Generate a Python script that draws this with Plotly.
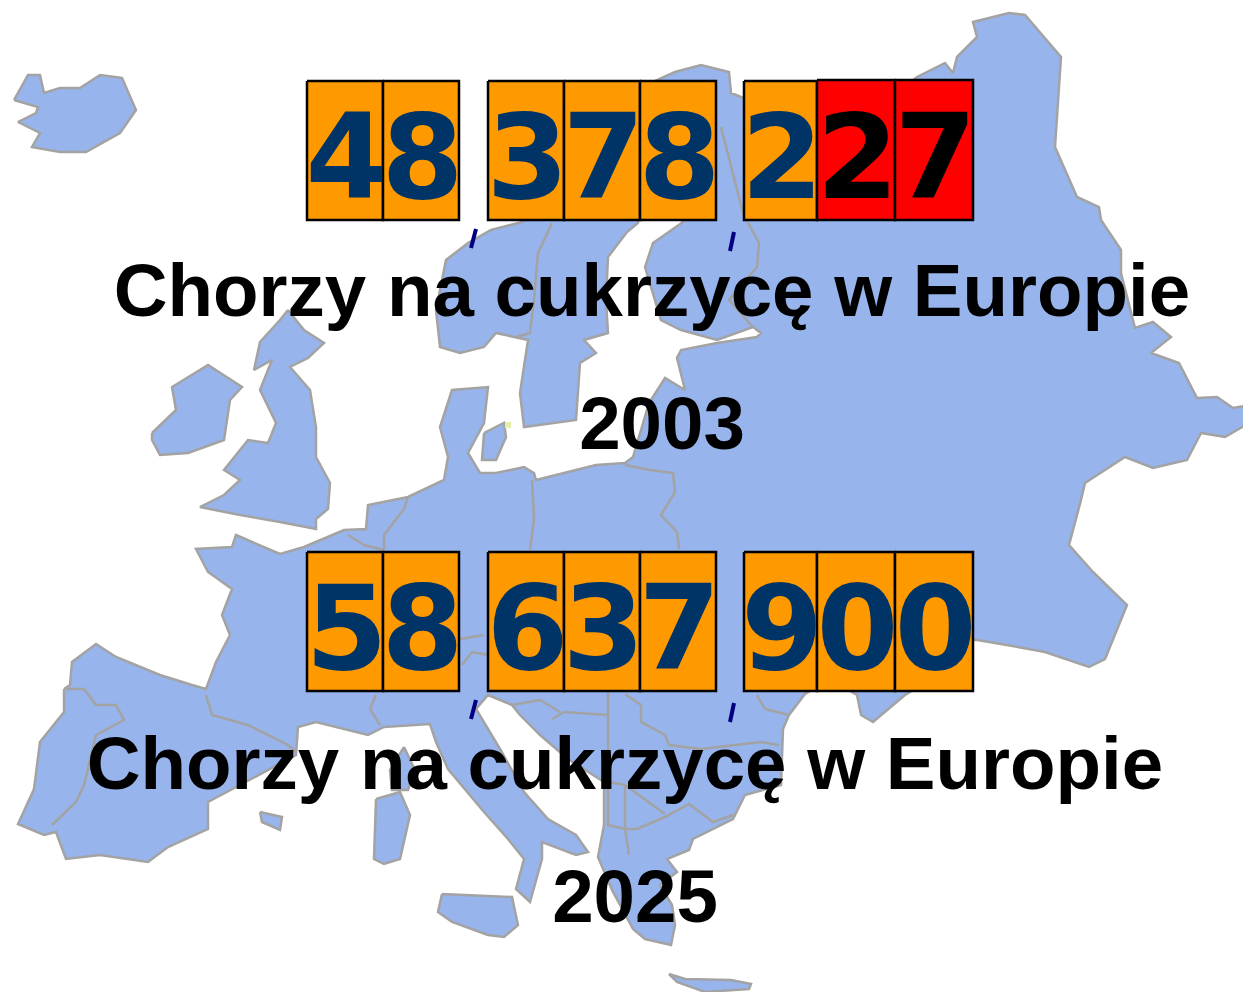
import plotly.graph_objects as go

# ---- content ----
FIGURES = ["48 378 227", "58 637 900"]
YEARS = ["2003", "2025"]
TITLE = "Chorzy na cukrzycę w Europie"
HIGHLIGHTED = [[6, 7], []]      # tiles in red, counted over the digits of each figure

# ---- background map outlines (traced) ----
CONTINENT = [(64,689),(70,685),(72,662),(96,644),(116,657),(160,675),(192,685),(206,689),(216,662),(230,635),(222,615),(232,589),(208,572),(196,549),(232,547),(236,535),(280,554),(304,547),(344,530),(366,529),(368,505),(408,497),(444,480),(448,457),(440,427),(452,390),(488,387),(484,423),(468,453),(480,473),(496,473),(524,467),(534,473),(536,480),(576,470),(596,465),(625,463),(633,457),(649,403),(665,378),(685,390),(677,358),(681,350),(717,343),(757,337),(761,333),(753,327),(717,340),(681,330),(661,320),(645,267),(653,243),(683,222),(660,190),(640,190),(638,223),(627,232),(608,257),(606,300),(608,333),(584,340),(596,353),(580,363),(576,420),(524,427),(520,393),(528,340),(496,333),(484,347),(460,353),(440,347),(436,310),(446,260),(468,243),(491,230),(522,222),(560,200),(655,81),(675,72),(701,65),(729,72),(731,93),(741,97),(780,110),(900,90),(917,77),(945,63),(953,73),(957,57),(977,37),(973,22),(1009,13),(1025,15),(1061,57),(1057,117),(1055,147),(1077,197),(1099,207),(1101,220),(1121,250),(1121,273),(1135,328),(1153,322),(1171,337),(1151,353),(1179,363),(1197,398),(1217,397),(1233,408),(1251,405),(1251,422),(1225,437),(1201,433),(1187,460),(1153,468),(1125,457),(1085,483),(1081,500),(1069,545),(1093,572),(1127,605),(1105,659),(1089,667),(1045,652),(1001,644),(977,640),(960,640),(930,680),(905,695),(873,722),(861,715),(857,695),(830,680),(805,694),(789,715),(783,729),(781,785),(745,795),(733,819),(693,839),(689,850),(667,859),(677,872),(660,885),(672,905),(675,925),(671,945),(645,939),(633,929),(612,890),(598,857),(604,825),(604,782),(568,759),(540,735),(520,715),(512,705),(488,695),(476,709),(484,722),(500,749),(524,792),(548,819),(576,835),(588,852),(576,855),(542,842),(542,859),(530,902),(516,889),(524,859),(508,839),(484,812),(448,769),(436,742),(430,724),(384,727),(368,735),(316,722),(298,727),(296,755),(240,785),(208,802),(208,829),(168,847),(148,862),(100,855),(66,859),(56,832),(44,835),(18,824),(34,789),(40,742),(64,712)]
ICELAND = [(14,100),(28,75),(40,75),(44,93),(60,88),(80,88),(100,75),(122,78),(136,110),(120,133),(86,152),(60,152),(32,147),(40,133),(18,122),(36,113),(38,107)]
IRELAND = [(152,433),(176,410),(172,387),(208,365),(242,387),(230,400),(224,440),(188,453),(160,455),(152,440)]
BRITAIN = [(288,310),(304,330),(324,343),(308,358),(290,367),(310,390),(316,427),(316,457),(330,483),(328,509),(316,519),(316,529),(280,522),(240,515),(200,507),(224,495),(240,480),(224,470),(248,440),(268,443),(276,423),(260,390),(272,360),(254,370),(260,342),(280,320)]
ZEALAND = [(484,433),(504,423),(506,437),(496,460),(482,460)]
SARDINIA = [(376,799),(400,792),(410,815),(400,859),(384,864),(374,859)]
CORSICA = [(404,747),(415,770),(408,790),(392,790),(390,770)]
BALEARIC = [(260,812),(282,817),(280,830),(262,822)]
SICILY = [(442,894),(512,897),(518,925),(504,937),(488,935),(452,922),(438,912)]
CRETE = [(669,974),(685,979),(731,980),(751,984),(749,989),(705,992),(677,982)]
LANDS = [CONTINENT, ICELAND, IRELAND, BRITAIN, ZEALAND, SARDINIA, CORSICA, BALEARIC, SICILY, CRETE]

BORDERS = [
    [(552,223),(538,253),(534,300),(530,333),(516,337)],
    [(721,127),(733,173),(743,213),(759,243),(757,267),(729,300),(753,327)],
    [(625,465),(650,470),(673,473),(675,492),(661,515),(677,532),(679,549)],
    [(532,480),(534,519),(530,550)],
    [(408,497),(404,509),(394,522),(384,535),(384,550)],
    [(348,535),(364,545),(384,550)],
    [(206,695),(212,715),(248,725),(288,745),(296,752)],
    [(66,689),(84,689),(96,705),(116,705),(124,720),(96,735),(84,785),(76,802),(52,825)],
    [(376,695),(370,709),(380,725)],
    [(460,639),(484,635)],
    [(462,665),(472,652),(488,655)],
    [(608,692),(608,825),(625,829),(637,829),(665,817),(689,804),(713,822),(733,815)],
    [(552,719),(564,712),(608,715)],
    [(625,694),(641,705),(641,722),(665,735),(669,745),(701,749),(761,742),(779,745)],
    [(757,695),(765,709),(789,715)],
    [(625,785),(625,829),(629,855)],
    [(512,705),(540,700),(560,712)],
    [(608,782),(625,785),(665,814)],
]

# ---- layout of the tiles (pixels on the 1251x992 canvas) ----
TILE_EDGES = [[307,383,459], [488,564,640,716], [744,817,895,973]]
ROW_TOP = [81, 552]
ROW_BOTTOM = [220, 691]
TITLE_X = [652, 625]
TITLE_Y = [297, 770]
YEAR_X = [662, 635]
YEAR_Y = [430, 903]
SEP_MARKS = [[(471,248),(476,229)], [(730,251),(734,232)]]
DIGIT_SHIFT_X = 1.5
DIGIT_SHIFT_Y = 18
PAGE_MARGIN = 8   # the page body offsets the plot by this many pixels

ORANGE, RED, NAVY = "#FF9900", "#FF0000", "#003366"
LAND, COAST = "#97B4EC", "#A3A3A3"

fig = go.Figure()

for poly in LANDS:
    xs, ys = zip(*(poly + poly[:1]))
    fig.add_trace(go.Scatter(x=xs, y=ys, mode="lines", fill="toself", fillcolor=LAND,
                             line=dict(color=COAST, width=2.5), hoverinfo="skip"))
for line in BORDERS:
    xs, ys = zip(*line)
    fig.add_trace(go.Scatter(x=xs, y=ys, mode="lines", line=dict(color=COAST, width=2.5), hoverinfo="skip"))
fig.add_trace(go.Scatter(x=[508], y=[425], mode="markers", hoverinfo="skip",
                         marker=dict(size=6, symbol="square", color="#E6EFA8")))

for row, figure in enumerate(FIGURES):
    top, bottom = ROW_TOP[row], ROW_BOTTOM[row]
    groups = figure.split(" ")
    n = 0
    for group, edges in zip(groups, TILE_EDGES):
        for i, digit in enumerate(group):
            l, r = edges[i], edges[i + 1]
            red = n in HIGHLIGHTED[row]
            t = top - 1 if red else top
            fig.add_trace(go.Scatter(x=[l, r, r, l, l], y=[t, t, bottom, bottom, t], mode="lines",
                                     fill="toself", fillcolor=RED if red else ORANGE,
                                     line=dict(color="black", width=2.5), hoverinfo="skip"))
            n += 1
    n = 0
    for group, edges in zip(groups, TILE_EDGES):
        for i, digit in enumerate(group):
            red = n in HIGHLIGHTED[row]
            fig.add_trace(go.Scatter(x=[(edges[i] + edges[i + 1]) / 2 + DIGIT_SHIFT_X],
                                     y=[(top + bottom) / 2 + DIGIT_SHIFT_Y], mode="text",
                                     text=[digit], textposition="middle center", hoverinfo="skip",
                                     textfont=dict(family="DejaVu Sans", size=118, weight=700,
                                                   color="black" if red else NAVY)))
            n += 1
    for (a, b) in SEP_MARKS:
        dy = top - ROW_TOP[0]
        fig.add_trace(go.Scatter(x=[a[0], b[0]], y=[a[1] + dy, b[1] + dy], mode="lines",
                                 line=dict(color="#000080", width=4), hoverinfo="skip"))
    fig.add_trace(go.Scatter(x=[TITLE_X[row]], y=[TITLE_Y[row]], mode="text", text=[TITLE],
                             textposition="middle center", hoverinfo="skip",
                             textfont=dict(family="Liberation Sans", size=74.5, weight=700, color="black")))
    fig.add_trace(go.Scatter(x=[YEAR_X[row]], y=[YEAR_Y[row]], mode="text", text=[YEARS[row]],
                             textposition="middle center", hoverinfo="skip",
                             textfont=dict(family="Liberation Sans", size=74.5, weight=700, color="black")))

fig.update_layout(width=1251 - PAGE_MARGIN, height=992 - PAGE_MARGIN, margin=dict(l=0, r=0, t=0, b=0), showlegend=False,
                  paper_bgcolor="rgba(0,0,0,0)", plot_bgcolor="rgba(0,0,0,0)",
                  xaxis=dict(range=[PAGE_MARGIN, 1251], visible=False, fixedrange=True),
                  yaxis=dict(range=[992, PAGE_MARGIN], visible=False, fixedrange=True))
fig.write_html("out.html", config=dict(displayModeBar=False))
